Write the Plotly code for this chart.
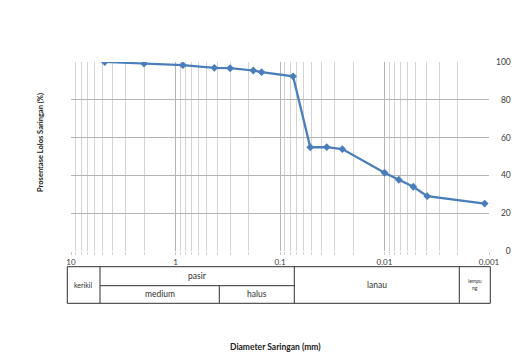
import plotly.graph_objects as go

# Sieve / hydrometer results: grain diameter (mm) vs percent passing
diameter_mm = [4.75, 2.0, 0.85, 0.425, 0.3, 0.18, 0.15, 0.075,
               0.0513, 0.0357, 0.0253, 0.0100, 0.0073, 0.0053, 0.0039, 0.0011]
percent_passing = [100.0, 99.2, 98.3, 96.9, 96.7, 95.5, 94.6, 92.4,
                   54.9, 55.0, 53.9, 41.4, 37.7, 34.0, 29.0, 25.1]

x_ticks = [10, 1, 0.1, 0.01, 0.001]
x_tick_text = ["10", "1", "0.1", "0.01", "0.001"]
y_ticks = [0, 20, 40, 60, 80, 100]

FONT = "Lato, 'Open Sans', sans-serif"
W, H = 523, 355
L, R, T, B = 71, 489, 62, 251   # plot area in pixels

def px(x):
    return (x - L) / (R - L)

def py(y):
    return (B - y) / (B - T)

fig = go.Figure()
fig.add_trace(go.Scatter(
    x=diameter_mm, y=percent_passing, mode="lines+markers",
    line=dict(color="#4a7ebb", width=2.25),
    marker=dict(symbol="diamond", size=6, color="#4a7ebb"),
    showlegend=False, hoverinfo="x+y",
))

minor_vals = [k * 10 ** e for e in range(-3, 1) for k in range(2, 10)]

fig.update_xaxes(
    type="log", range=[1, -3],
    tickvals=x_ticks, ticktext=x_tick_text,
    showgrid=True, gridcolor="#b4b4b4", gridwidth=1,
    ticks="outside", ticklen=3, tickcolor="#c8c8c8",
    minor=dict(tickvals=minor_vals, showgrid=True, gridcolor="#d4d4d4",
               gridwidth=1, ticks="outside", ticklen=3, tickcolor="#d4d4d4"),
    zeroline=False, showline=False,
    tickfont=dict(family=FONT, size=8, color="#404040"),
    ticklabelstandoff=0,
)

fig.update_yaxes(
    side="right", range=[0, 100],
    tickvals=y_ticks,
    ticktext=[("\u2007" * (3 - len(str(v)))) + str(v) for v in y_ticks],
    showgrid=True, gridcolor="#b4b4b4", gridwidth=1,
    zeroline=False, showline=False, ticks="",
    tickfont=dict(family=FONT, size=8.5, color="#404040"),
    ticklabelstandoff=6,
)

# Soil classification table below the curve
tx = [67.3, 100, 219.3, 294.3, 459.3, 490.3]
ty = [266.7, 285.7, 303.3]
line = dict(color="#303030", width=1)
shapes = [
    dict(type="rect", x0=px(tx[0]), x1=px(tx[-1]), y0=py(ty[0]), y1=py(ty[2])),
    dict(type="line", x0=px(tx[1]), x1=px(tx[1]), y0=py(ty[0]), y1=py(ty[2])),
    dict(type="line", x0=px(tx[3]), x1=px(tx[3]), y0=py(ty[0]), y1=py(ty[2])),
    dict(type="line", x0=px(tx[4]), x1=px(tx[4]), y0=py(ty[0]), y1=py(ty[2])),
    dict(type="line", x0=px(tx[1]), x1=px(tx[3]), y0=py(ty[1]), y1=py(ty[1])),
    dict(type="line", x0=px(tx[2]), x1=px(tx[2]), y0=py(ty[1]), y1=py(ty[2])),
]
for s in shapes:
    s.update(xref="paper", yref="paper", line=line, layer="above")

zone_labels = ["kerikil", "pasir", "medium", "halus", "lanau", "lempu<br>ng"]
zone_pos = [(83.7, 285.0), (197.2, 275.5), (159.6, 293.5), (256.8, 293.5),
            (376.8, 284.5), (474.8, 284.5)]
zone_size = [7, 8.5, 8.5, 8.5, 8.5, 5]

annotations = []
for text, (x, y), s in zip(zone_labels, zone_pos, zone_size):
    annotations.append(dict(text=text, x=px(x), y=py(y), xref="paper", yref="paper",
                            showarrow=False, xanchor="center", yanchor="middle",
                            font=dict(family=FONT, size=s, color="#303030")))

annotations.append(dict(text="<b>Diameter Saringan (mm)</b>", x=px(275), y=py(347),
                        xref="paper", yref="paper", showarrow=False,
                        xanchor="center", yanchor="middle",
                        font=dict(family=FONT, size=8.5, color="#202020")))
annotations.append(dict(text="<b>Prosentase Lolos Saringan (%)</b>", x=px(40), y=py(143),
                        xref="paper", yref="paper", showarrow=False, textangle=-90,
                        xanchor="center", yanchor="middle",
                        font=dict(family=FONT, size=7.5, color="#202020")))

fig.update_layout(
    width=W, height=H, autosize=False,
    margin=dict(l=L, r=W - R, t=T, b=H - B, pad=0),
    paper_bgcolor="white", plot_bgcolor="white",
    shapes=shapes, annotations=annotations,
)

fig.write_html("out.html")
